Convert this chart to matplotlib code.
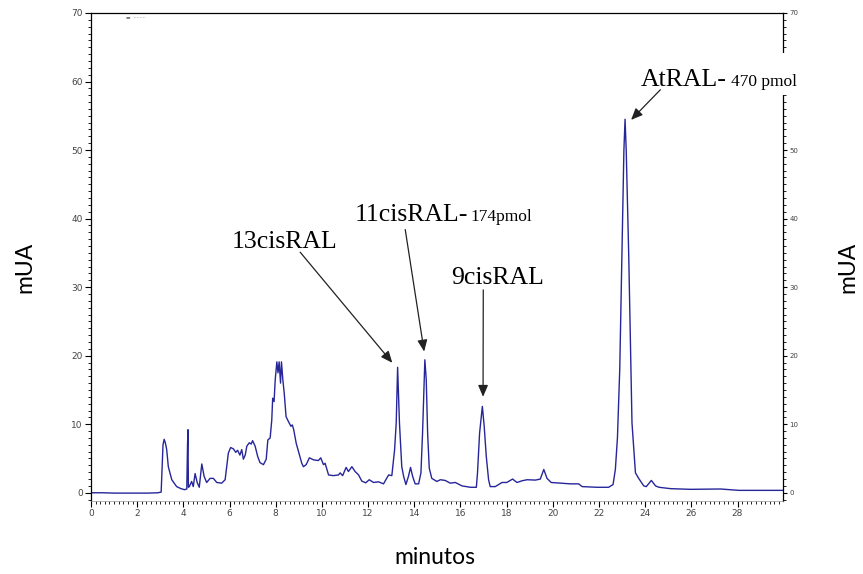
import matplotlib.pyplot as plt
from matplotlib.patches import Rectangle
from matplotlib.ticker import MultipleLocator, FuncFormatter

# chromatogram (minutes, mAU)
time = [0.0, 0.5, 1.0, 1.5, 2.0, 2.5, 2.9, 3.04, 3.08, 3.12, 3.17, 3.22, 3.28, 3.35,
        3.5, 3.71, 3.9, 4.05, 4.15, 4.18, 4.2, 4.22, 4.26, 4.36, 4.43, 4.51, 4.6,
        4.69, 4.8, 4.9, 5.01, 5.16, 5.3, 5.45, 5.66, 5.81, 5.95, 6.05, 6.17, 6.27,
        6.35, 6.45, 6.53, 6.6, 6.68, 6.75, 6.86, 6.94, 7.0, 7.11, 7.22, 7.32, 7.47,
        7.59, 7.66, 7.76, 7.83, 7.87, 7.93, 7.98, 8.05, 8.1, 8.15, 8.21, 8.25, 8.31,
        8.37, 8.45, 8.55, 8.66, 8.72, 8.78, 8.89, 8.99, 9.13, 9.2, 9.32, 9.46, 9.64,
        9.85, 9.95, 10.07, 10.14, 10.29, 10.5, 10.72, 10.79, 10.9, 11.05, 11.15,
        11.3, 11.44, 11.59, 11.73, 11.9, 12.05, 12.24, 12.45, 12.67, 12.89, 13.03,
        13.15, 13.22, 13.28, 13.36, 13.46, 13.54, 13.64, 13.75, 13.84, 13.93, 14.04,
        14.19, 14.29, 14.36, 14.46, 14.52, 14.58, 14.65, 14.76, 14.98, 15.13, 15.34,
        15.56, 15.78, 16.07, 16.43, 16.69, 16.74, 16.83, 16.95, 17.03, 17.12, 17.22,
        17.29, 17.51, 17.8, 18.01, 18.26, 18.45, 18.67, 18.89, 19.25, 19.46, 19.61,
        19.75, 19.93, 20.33, 20.76, 21.12, 21.27, 21.92, 22.42, 22.61, 22.71, 22.8,
        22.9, 23.0, 23.08, 23.13, 23.18, 23.29, 23.43, 23.58, 23.72, 23.94, 24.05,
        24.27, 24.45, 24.6, 25.1, 25.97, 27.26, 28.06, 30.0]
mau = [0.0, 0.0, -0.05, -0.05, -0.05, -0.05, 0.0, 0.1, 3.5, 7.0, 7.8, 7.3, 6.3, 3.8,
       1.9, 0.9, 0.6, 0.45, 0.55, 6.7, 9.2, 0.8, 0.9, 1.65, 0.9, 2.8, 1.5,
       0.8, 4.2, 2.4, 1.5, 2.1, 2.1, 1.5, 1.4, 1.9, 5.8, 6.6, 6.4, 5.9,
       6.2, 5.5, 6.3, 4.9, 5.5, 6.8, 7.3, 7.1, 7.6, 6.8, 5.3, 4.4, 4.1,
       4.9, 7.7, 8.0, 10.6, 13.8, 13.3, 16.5, 19.1, 17.5, 19.1, 16.0, 19.1, 16.5,
       14.5, 11.1, 10.4, 9.7, 9.9, 9.2, 7.2, 6.0, 4.3, 3.8, 4.1, 5.1, 4.8,
       4.7, 5.1, 4.1, 4.3, 2.6, 2.5, 2.6, 2.9, 2.5, 3.7, 3.1,
       3.8, 3.1, 2.6, 1.7, 1.45, 1.9, 1.5, 1.6, 1.3, 2.6, 2.5,
       6.3, 10.2, 18.3, 10.2, 3.8, 2.4, 1.2, 2.4, 3.7, 2.4, 1.3,
       1.3, 2.9, 8.7, 19.4, 16.5, 8.7, 3.6, 2.1, 1.65, 1.9, 1.8,
       1.4, 1.5, 1.0, 0.8, 0.8, 2.9, 8.7, 12.6, 9.7, 5.3, 1.9,
       0.9, 0.9, 1.5, 1.5, 2.0, 1.5, 1.75, 1.9, 1.85, 2.0, 3.4,
       2.1, 1.5, 1.4, 1.3, 1.3, 0.9, 0.8, 0.8, 1.2, 3.4, 8.0,
       18.0, 36.0, 50.0, 54.5, 50.0, 34.5, 10.2, 2.9, 2.1, 1.0, 0.9,
       1.8, 1.0, 0.8, 0.6, 0.5, 0.55, 0.35, 0.35]

# peak labels
peak_names = ['13cisRAL', '11cisRAL-', '9cisRAL', 'AtRAL-']
peak_amounts = ['', '174pmol', '', '470 pmol']
label_xy = [(6.11, 35.7), (11.44, 39.7), (15.6, 30.5), (23.8, 59.4)]
amount_x = [0, 16.43, 0, 27.7]
arrow_from = [(9.06, 35.1), (13.61, 38.4), (16.99, 29.6), (24.66, 58.8)]
arrow_to = [(13.05, 18.96), (14.43, 20.6), (16.98, 14.0), (23.39, 54.4)]

fig = plt.figure(figsize=(8.63, 5.74), dpi=100)
ax = fig.add_axes([0.1054, 0.1272, 0.8019, 0.8502])
ax2 = ax.twinx()
ax.set_zorder(ax2.get_zorder() + 1)
ax.patch.set_visible(False)

ax.plot(time, mau, color='#26269a', lw=1.0)
ax.set_xlim(0, 29.97)
ax.set_ylim(-1.2, 70)

ax.xaxis.set_major_locator(MultipleLocator(2))
ax.xaxis.set_minor_locator(MultipleLocator(0.2))
ax.yaxis.set_major_locator(MultipleLocator(10))
ax.yaxis.set_minor_locator(MultipleLocator(1))
ax.tick_params(axis='both', which='major', labelsize=6.5, labelcolor='#444444',
               width=0.8, length=4, direction='out', pad=2)
ax.tick_params(axis='both', which='minor', width=0.6, length=2.5, direction='out')
for s in ['left', 'top', 'right']:
    ax.spines[s].set_linewidth(0.9)
ax.spines['bottom'].set_color('#999999')
ax.spines['bottom'].set_linewidth(0.5)

ax2.set_ylim(ax.get_ylim())
ax2.yaxis.set_major_locator(MultipleLocator(10))
ax2.yaxis.set_minor_locator(MultipleLocator(1))
# the 60 label on the right is hidden behind the AtRAL label
ax2.yaxis.set_major_formatter(FuncFormatter(lambda v, p: '' if round(v) == 60 else '%d' % v))
ax2.tick_params(axis='y', which='major', labelsize=5, labelcolor='#444444',
                width=0.8, length=3, pad=1.5)
ax2.tick_params(axis='y', which='minor', width=0.6, length=2)
for s in ax2.spines.values():
    s.set_visible(False)

ax.text(1.5, 69.3, '\u25ac  \u00b7\u00b7\u00b7\u00b7\u00b7\u00b7\u00b7\u00b7',
        fontsize=3.5, color='#777777', va='center')

# white box behind the AtRAL label where it crosses the right axis
ax.add_patch(Rectangle((775 / 863, 1 - 95 / 574), 25 / 863, 42 / 574,
                       transform=fig.transFigure, facecolor='white',
                       edgecolor='none', zorder=4, clip_on=False))

for i in range(len(peak_names)):
    ax.annotate('', xy=arrow_to[i], xytext=arrow_from[i],
                arrowprops=dict(arrowstyle='-|>,head_length=0.7,head_width=0.3',
                                color='#222222', lw=0.9, shrinkA=0, shrinkB=0))
    ax.text(label_xy[i][0], label_xy[i][1], peak_names[i], fontsize=18.5,
            family='Liberation Serif', va='baseline', ha='left')
    if peak_amounts[i]:
        ax.text(amount_x[i], label_xy[i][1], peak_amounts[i], fontsize=12.5,
                family='Liberation Serif', va='baseline', ha='left', zorder=5,
                clip_on=False)

fig.text(0.029, 0.535, 'mUA', rotation=90, fontsize=16.5, family='Lato',
         ha='center', va='center')
fig.text(0.982, 0.535, 'mUA', rotation=90, fontsize=16.5, family='Lato',
         ha='center', va='center')
fig.text(0.504, 0.029, 'minutos', fontsize=16.5, family='Lato',
         ha='center', va='center')

fig.savefig('out.png', dpi=100)
